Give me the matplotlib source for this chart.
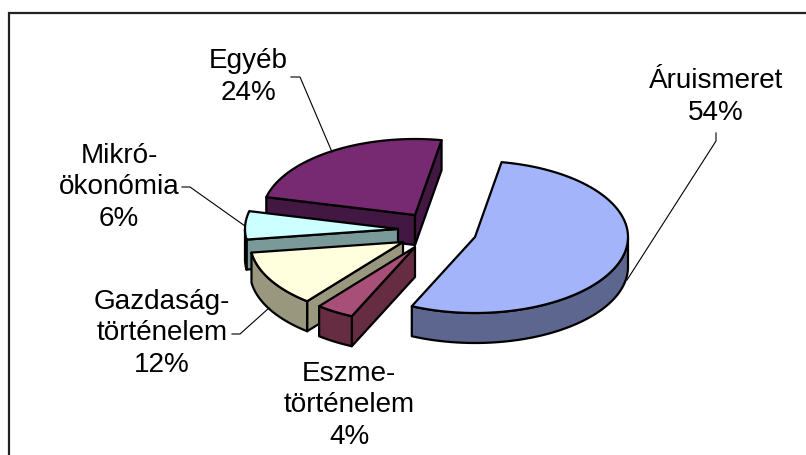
import numpy as np
import matplotlib
matplotlib.use("Agg")
import matplotlib.pyplot as plt
from matplotlib.patches import Polygon

plt.rcParams['font.family'] = ['Liberation Sans', 'DejaVu Sans']

labels = ["Áruismeret\n54%", "Eszme-\ntörténelem\n4%", "Gazdaság-\ntörténelem\n12%", "Mikró-\nökonómia\n6%", "Egyéb\n24%"]
values = [54, 4, 12, 6, 24]
top_colors = ["#A3B4FB", "#A84F78", "#FFFFDD", "#CCFFFF", "#772A72"]
side_colors = ["#5C668F", "#662C42", "#99987F", "#7A9999", "#421742"]

# where each exploded slice has its tip, pixels
tips = [(475, 237), (415, 247), (403, 242), (398, 229), (415, 215)]
# centre x and first baseline of each label
label_pos = [(716, 88), (349, 381), (162, 309), (119, 163), (248, 68)]
leaders = [
    [(716, 133), (716, 141), (627, 280)],
    [(291, 77), (300, 77), (332, 152)],
    [(182, 187), (190, 187), (245, 226)],
    [(232, 334), (240, 334), (269, 308)],
]

rx, ry = 153, 76
depth = 30
start = 80
line_step = 31.5

fig = plt.figure(figsize=(8.06, 4.55), dpi=100)
ax = fig.add_axes([0, 0, 1, 1])
ax.set_xlim(0, 806)
ax.set_ylim(455, 0)
ax.axis("off")

# chart border, only the top and left fall inside the picture
ax.plot([9, 9, 806], [455, 13, 13], color="#222222", lw=1.6, solid_joinstyle="miter")

# angles go clockwise from start, one step per value
ends = start - np.cumsum(values) * 3.6
starts = np.r_[start, ends[:-1]]


def wall(i, ang):
    cx, cy = tips[i]
    x = cx + rx * np.cos(np.radians(ang))
    y = cy - ry * np.sin(np.radians(ang))
    ax.add_patch(Polygon([(cx, cy), (x, y), (x, y + depth), (cx, cy + depth)],
                         fc=side_colors[i], ec="black", lw=1.6, joinstyle="round"))


def draw_slice(i):
    cx, cy = tips[i]
    deg = np.linspace(starts[i], ends[i], 90)
    x = cx + rx * np.cos(np.radians(deg))
    y = cy - ry * np.sin(np.radians(deg))
    # only walls facing the viewer
    if np.cos(np.radians(starts[i])) < 0:
        wall(i, starts[i])
    if np.cos(np.radians(ends[i])) > 0:
        wall(i, ends[i])
    # rim, front half of the ellipse only
    front = np.sin(np.radians(deg)) < 0
    if front.sum() > 1:
        rim = np.r_[np.c_[x[front], y[front]], np.c_[x[front], y[front] + depth][::-1]]
        ax.add_patch(Polygon(rim, fc=side_colors[i], ec="black", lw=1.6, joinstyle="round"))
    ax.add_patch(Polygon(np.r_[[[cx, cy]], np.c_[x, y]], fc=top_colors[i], ec="black", lw=1.6, joinstyle="round"))


# back slices first
for i in [4, 3, 2, 1, 0]:
    draw_slice(i)

for line in leaders:
    xs, ys = zip(*line)
    ax.plot(xs, ys, color="black", lw=0.8)

for lab, (lx, ly) in zip(labels, label_pos):
    for n, part in enumerate(lab.split("\n")):
        ax.text(lx, ly + n * line_step, part, fontsize=20.1, ha="center", va="baseline", color="black")

fig.savefig("out.png", dpi=100)
